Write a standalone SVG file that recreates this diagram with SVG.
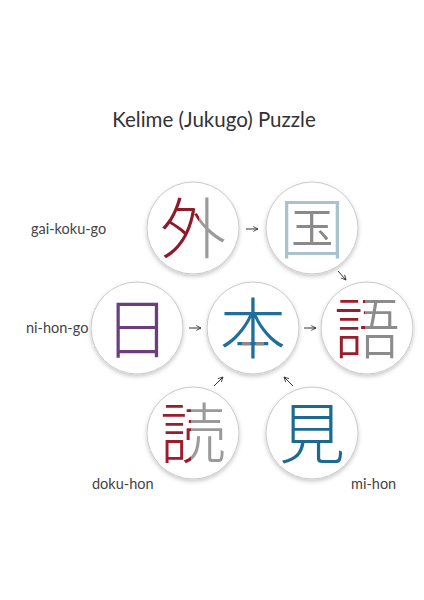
<svg xmlns="http://www.w3.org/2000/svg" width="424" height="600" viewBox="0 0 424 600">
  <defs>
    <style>
      .bub { fill: #ffffff; stroke: #c9c9c9; stroke-width: 1; filter: url(#sh); }
      .kj { font-family: "Noto Sans CJK JP", "Noto Sans CJK SC", sans-serif; font-size: 66px; font-weight: 300; text-anchor: middle; }
      .lbl { font-family: Lato, "Noto Sans", sans-serif; font-size: 14.5px; fill: #444444; }
      .ttl { font-family: Lato, "Noto Sans", sans-serif; font-size: 20.5px; fill: #333333; text-anchor: middle; }
      .arr { stroke: #333333; stroke-width: 1; fill: none; marker-end: url(#ah); }
    </style>
    <filter id="sh" x="-20%" y="-20%" width="140%" height="150%">
      <feDropShadow dx="0" dy="2" stdDeviation="2" flood-color="#000000" flood-opacity="0.22"/>
    </filter>
    <marker id="ah" viewBox="0 0 10 10" refX="9" refY="5" markerWidth="6" markerHeight="6" orient="auto" markerUnits="userSpaceOnUse">
      <path d="M1,1 L9,5 L1,9" fill="none" stroke="#333333" stroke-width="1.4"/>
    </marker>
    <linearGradient id="gGai" gradientUnits="userSpaceOnUse" x1="150" y1="0" x2="240" y2="0">
      <stop offset="0.544" stop-color="#8e1b2b"/>
      <stop offset="0.544" stop-color="#9a9a9a"/>
    </linearGradient>
    <linearGradient id="gGo" gradientUnits="userSpaceOnUse" x1="320" y1="0" x2="410" y2="0">
      <stop offset="0.5" stop-color="#9b1c2c"/>
      <stop offset="0.5" stop-color="#8c8c8c"/>
    </linearGradient>
    <linearGradient id="gDoku" gradientUnits="userSpaceOnUse" x1="150" y1="0" x2="240" y2="0">
      <stop offset="0.456" stop-color="#9b1c2c"/>
      <stop offset="0.456" stop-color="#9a9a9a"/>
    </linearGradient>
    <clipPath id="cKokuIn">
      <rect x="292" y="208" width="40" height="40"/>
    </clipPath>
    <clipPath id="cHonLow">
      <rect x="242" y="338" width="8.5" height="9"/>
      <rect x="255.5" y="338" width="8.5" height="9"/>
    </clipPath>
  </defs>

  <rect x="0" y="0" width="424" height="600" fill="#ffffff"/>

  <text class="ttl" x="214" y="127">Kelime (Jukugo) Puzzle</text>

  <g id="connectors">
    <line class="arr" x1="246" y1="229" x2="258" y2="229"/>
    <line class="arr" x1="338" y1="271" x2="346" y2="280"/>
    <line class="arr" x1="189" y1="328" x2="201" y2="328"/>
    <line class="arr" x1="304" y1="328" x2="316" y2="328"/>
    <line class="arr" x1="214" y1="386" x2="223" y2="377"/>
    <line class="arr" x1="293" y1="386" x2="284" y2="377"/>
  </g>

  <g id="node-gai">
    <circle class="bub" cx="193" cy="228" r="46"/>
    <text class="kj" x="193" y="253" fill="url(#gGai)">外</text>
  </g>
  <g id="node-koku">
    <circle class="bub" cx="312" cy="228" r="46"/>
    <text class="kj" x="312" y="253" fill="#a9c2ce">国</text>
    <text class="kj" x="312" y="253" fill="#8a8a8a" clip-path="url(#cKokuIn)">国</text>
  </g>
  <g id="node-ni">
    <circle class="bub" cx="137" cy="328" r="46"/>
    <text class="kj" x="137" y="353" fill="#6c3f7c">日</text>
  </g>
  <g id="node-hon">
    <circle class="bub" cx="253" cy="328" r="46"/>
    <text class="kj" x="253" y="353" fill="#1f6f9a">本</text>
    <text class="kj" x="253" y="353" fill="#8a8a8a" clip-path="url(#cHonLow)">本</text>
  </g>
  <g id="node-go">
    <circle class="bub" cx="367" cy="328" r="46"/>
    <text class="kj" x="367" y="353" fill="url(#gGo)">語</text>
  </g>
  <g id="node-doku">
    <circle class="bub" cx="193" cy="433" r="46"/>
    <text class="kj" x="193" y="458" fill="url(#gDoku)">読</text>
  </g>
  <g id="node-mi">
    <circle class="bub" cx="312" cy="433" r="46"/>
    <text class="kj" x="312" y="458" fill="#1d6a90">見</text>
  </g>

  <g id="labels">
    <text class="lbl" x="31" y="234">gai-koku-go</text>
    <text class="lbl" x="26" y="333">ni-hon-go</text>
    <text class="lbl" x="92" y="489">doku-hon</text>
    <text class="lbl" x="351" y="489">mi-hon</text>
  </g>
</svg>
